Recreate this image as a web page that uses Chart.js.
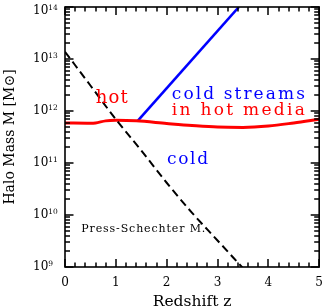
<!DOCTYPE html>
<html><head><meta charset="utf-8">
<script src="https://cdn.jsdelivr.net/npm/chart.js@4/dist/chart.umd.min.js"></script>
<style>html,body{margin:0;padding:0;background:#fff;}canvas{display:block;}</style>
</head><body>
<div style="width:332px;height:308px"><canvas id="c" width="332" height="308"></canvas></div>
<script>
// ---- data ----
const redshiftPS = [0, 0.5, 1, 1.5, 2, 2.5, 3, 3.5];
const massPS = [1.38e13, 3.09e12, 6.92e11, 1.74e11, 4.17e10, 1.10e10, 3.24e9, 9.55e8];
const redshiftShock = [0, 0.5, 0.6, 0.8, 1.0, 1.4, 2.0, 2.5, 3.0, 3.5, 4.0, 4.5, 5.0];
const massShock = [5.89e11, 5.82e11, 5.89e11, 6.46e11, 6.61e11, 6.46e11, 5.75e11, 5.25e11, 4.90e11, 4.84e11, 5.13e11, 5.89e11, 6.92e11];
const redshiftStreams = [1.43, 3.42];
const massStreams = [6.46e11, 1e14];
const xTickLabels = ['0', '1', '2', '3', '4', '5'];
const yTickExponents = [9, 10, 11, 12, 13, 14];
const labelTexts = ['hot', 'cold streams', 'in hot media', 'cold', 'Press-Schechter M.'];
const labelRedshift = [0.92, 3.41, 3.41, 2.41, 1.54];
const labelMass = [1.43e12, 1.70e12, 8.3e11, 9.55e10, 4.71e9];

const SERIF = '"DejaVu Serif", "Liberation Serif", serif';
const labelStyle = [
  {color: '#ff0000', size: 18, width: 32},
  {color: '#0000ff', size: 17, width: 133},
  {color: '#ff0000', size: 17, width: 133},
  {color: '#0000ff', size: 17, width: 41},
  {color: '#000000', size: 11, width: 124}
];

const pts = (xs, ys) => xs.map((v, i) => ({x: v, y: ys[i]}));

const framePlugin = {
  id: 'frame',
  afterDraw(chart) {
    const {ctx, chartArea: a, scales} = chart;
    const xs = scales.x, ys = scales.y;
    ctx.save();
    ctx.setLineDash([]);
    ctx.fillStyle = '#000';
    const tw = 1.5;
    // x ticks: major each unit, minor every 0.2, inward on bottom and top
    for (let i = 0; i <= 25; i++) {
      const px = Math.round(xs.getPixelForValue(i * 0.2));
      const L = (i % 5 === 0) ? 8 : 4.5;
      ctx.fillRect(px - tw / 2, a.bottom - L, tw, L);
      ctx.fillRect(px - tw / 2, a.top, tw, L);
    }
    // y ticks: decades major, 2..9 minor, inward on left and right
    for (let e = yTickExponents[0]; e <= yTickExponents[yTickExponents.length - 1]; e++) {
      for (let k = 1; k <= 9; k++) {
        const v = k * Math.pow(10, e);
        if (v > ys.max * 1.0001) break;
        const py = Math.round(ys.getPixelForValue(v));
        const L = k === 1 ? 8.5 : 5;
        ctx.fillRect(a.left, py - tw / 2, L, tw);
        ctx.fillRect(a.right - L, py - tw / 2, L, tw);
      }
    }
    ctx.strokeStyle = '#000';
    ctx.lineWidth = 1.6;
    ctx.strokeRect(a.left, a.top, a.right - a.left, a.bottom - a.top);

    // y tick labels 10^n
    ctx.fillStyle = '#000';
    ctx.textAlign = 'left';
    yTickExponents.forEach(e => {
      let py = ys.getPixelForValue(Math.pow(10, e));
      py = Math.max(py, 11);
      ctx.font = '12px ' + SERIF;
      ctx.textBaseline = 'middle';
      const x0 = 33;
      ctx.fillText('10', x0, py);
      const w = ctx.measureText('10').width;
      ctx.font = '7.5px ' + SERIF;
      ctx.textBaseline = 'alphabetic';
      ctx.fillText(String(e), x0 + w, py - 1);
    });

    // annotations
    ctx.textBaseline = 'alphabetic';
    labelTexts.forEach((t, i) => {
      const st = labelStyle[i];
      ctx.font = st.size + 'px ' + SERIF;
      ctx.letterSpacing = '0px';
      const nat = ctx.measureText(t).width;
      const sp = Math.max(0, (st.width - nat) / (t.length - 1));
      ctx.letterSpacing = sp + 'px';
      ctx.fillStyle = st.color;
      const cx = xs.getPixelForValue(labelRedshift[i]);
      const cy = ys.getPixelForValue(labelMass[i]);
      ctx.fillText(t, cx - st.width / 2, cy);
    });
    ctx.letterSpacing = '0px';
    ctx.restore();
  }
};

new Chart(document.getElementById('c'), {
  type: 'line',
  data: {
    datasets: [
      {label: 'Press-Schechter M', data: pts(redshiftPS, massPS), borderColor: '#000', borderWidth: 2,
       borderDash: [8, 4.5], pointRadius: 0, cubicInterpolationMode: 'monotone', fill: false},
      {label: 'shock heating threshold', data: pts(redshiftShock, massShock), borderColor: '#ff0000', borderWidth: 3,
       pointRadius: 0, cubicInterpolationMode: 'monotone', fill: false},
      {label: 'cold streams', data: pts(redshiftStreams, massStreams), borderColor: '#0000ff', borderWidth: 2.6,
       pointRadius: 0, fill: false}
    ]
  },
  options: {
    responsive: false,
    animation: false,
    events: [],
    layout: {padding: {top: 7, right: 7, left: 0, bottom: 0}},
    plugins: {legend: {display: false}, tooltip: {enabled: false}},
    scales: {
      x: {
        type: 'linear', min: 0, max: 5,
        grid: {display: false, drawTicks: false},
        border: {display: false},
        ticks: {stepSize: 1, padding: 9, color: '#000', font: {family: SERIF, size: 12},
                callback: (v) => xTickLabels[Math.round(v)] ?? ''},
        title: {display: true, text: 'Redshift z', color: '#000', font: {family: SERIF, size: 15.5, lineHeight: 1},
                padding: {top: 0, bottom: -2}},
        afterFit: (s) => { s.height = 41; }
      },
      y: {
        type: 'logarithmic', min: 1e9, max: 1e14,
        grid: {display: false, drawTicks: false},
        border: {display: false},
        ticks: {display: false},
        title: {display: true, text: 'Halo Mass M [M\u2299]', color: '#000', font: {family: SERIF, size: 14, lineHeight: 1},
                padding: {top: 3, bottom: 0}},
        afterFit: (s) => { s.width = 65; }
      }
    }
  },
  plugins: [framePlugin]
});
</script>
</body></html>
